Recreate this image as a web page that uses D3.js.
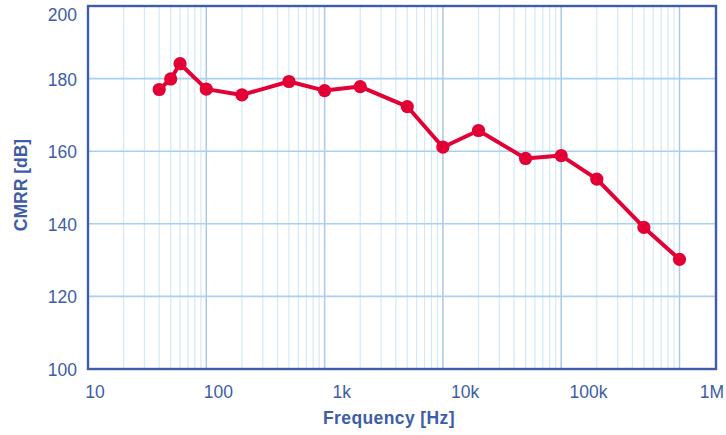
<!DOCTYPE html>
<html lang="en">
<head>
    <meta charset="utf-8">
    <title>CMRR vs Frequency</title>
    <script src="https://d3js.org/d3.v7.min.js"></script>
    <style>
        body { margin: 0; background: #fff; }
        text { font-family: "Liberation Sans", Arial, sans-serif; }
    </style>
</head>
<body>
    <script type="text/javascript">
        // data
        var freq = [40, 50, 60, 100, 200, 500, 1000, 2000, 5000, 10000, 20000, 50000, 100000, 200000, 500000, 1000000];
        var cmrr = [177.0, 179.9, 184.1, 177.1, 175.5, 179.2, 176.7, 177.8, 172.3, 161.1, 165.7, 158.0, 158.8, 152.3, 139.0, 130.2];
        var yTicks = [100, 120, 140, 160, 180, 200];
        var xTicks = [10, 100, 1000, 10000, 100000, 1000000];
        var xTickLabels = ["10", "100", "1k", "10k", "100k", "1M"];

        var w = 726, h = 435;
        var pLeft = 88, pRight = 716, pTop = 6, pBottom = 369;
        var blue = "#3d5da6";
        var red = "#e30034";

        var svg = d3.select("body").append("svg")
            .attr("width", w).attr("height", h);

        // data/grid scale: decade lines stop at 1M, frame goes a bit further
        var x = d3.scaleLog().domain([10, 1000000]).range([pLeft, 679.5]);
        // tick labels sit on a slightly wider spread
        var xLab = d3.scaleLog().domain([10, 1000000]).range([95, 712]);
        var y = d3.scaleLinear().domain([100, 200]).range([pBottom, pTop]);

        // minor vertical grid
        var minor = [];
        for (var d = 10; d < 1000000; d *= 10) {
            for (var m = 2; m <= 9; m++) minor.push(d * m);
        }
        svg.append("g").selectAll("line").data(minor).enter().append("line")
            .attr("x1", function(d) { return x(d); })
            .attr("x2", function(d) { return x(d); })
            .attr("y1", pTop).attr("y2", pBottom)
            .attr("stroke", "#d3e9f7").attr("stroke-width", 1.2);

        // decade lines
        svg.append("g").selectAll("line").data(xTicks.slice(1)).enter().append("line")
            .attr("x1", function(d) { return x(d); })
            .attr("x2", function(d) { return x(d); })
            .attr("y1", pTop).attr("y2", pBottom)
            .attr("stroke", "#a9c9e6").attr("stroke-width", 1.5);

        // horizontal grid
        svg.append("g").selectAll("line").data(yTicks.slice(1, -1)).enter().append("line")
            .attr("x1", pLeft).attr("x2", pRight)
            .attr("y1", function(d) { return y(d); })
            .attr("y2", function(d) { return y(d); })
            .attr("stroke", "#a9d0ee").attr("stroke-width", 1.6);

        // frame
        svg.append("rect")
            .attr("x", pLeft).attr("y", pTop)
            .attr("width", pRight - pLeft).attr("height", pBottom - pTop)
            .attr("fill", "none").attr("stroke", blue).attr("stroke-width", 2.4);

        // y tick labels (top one nudged down to stay inside)
        svg.append("g").selectAll("text").data(yTicks).enter().append("text")
            .attr("x", 77)
            .attr("y", function(d) { return d === 200 ? 21 : y(d) + 7; })
            .attr("text-anchor", "end")
            .attr("font-size", 17.5).attr("fill", blue)
            .text(function(d) { return d; });

        // x tick labels
        svg.append("g").selectAll("text").data(xTicks).enter().append("text")
            .attr("x", function(d) { return xLab(d); })
            .attr("y", 398)
            .attr("text-anchor", "middle")
            .attr("font-size", 17.5).attr("fill", blue)
            .text(function(d, i) { return xTickLabels[i]; });

        // axis titles
        svg.append("text")
            .attr("x", 389).attr("y", 424)
            .attr("text-anchor", "middle")
            .attr("font-size", 17.5).attr("font-weight", "bold").attr("fill", blue)
            .attr("letter-spacing", 0.4)
            .text("Frequency [Hz]");

        svg.append("text")
            .attr("transform", "translate(27,185) rotate(-90)")
            .attr("text-anchor", "middle")
            .attr("font-size", 17.5).attr("font-weight", "bold").attr("fill", blue)
            .text("CMRR [dB]");

        // series
        var pts = freq.map(function(f, i) { return [f, cmrr[i]]; });
        var line = d3.line()
            .x(function(d) { return x(d[0]); })
            .y(function(d) { return y(d[1]); });

        svg.append("path")
            .datum(pts)
            .attr("d", line)
            .attr("fill", "none")
            .attr("stroke", red).attr("stroke-width", 4)
            .attr("stroke-linejoin", "round");

        svg.append("g").selectAll("circle").data(pts).enter().append("circle")
            .attr("cx", function(d) { return x(d[0]); })
            .attr("cy", function(d) { return y(d[1]); })
            .attr("r", 6.6)
            .attr("fill", red);
    </script>
</body>
</html>
